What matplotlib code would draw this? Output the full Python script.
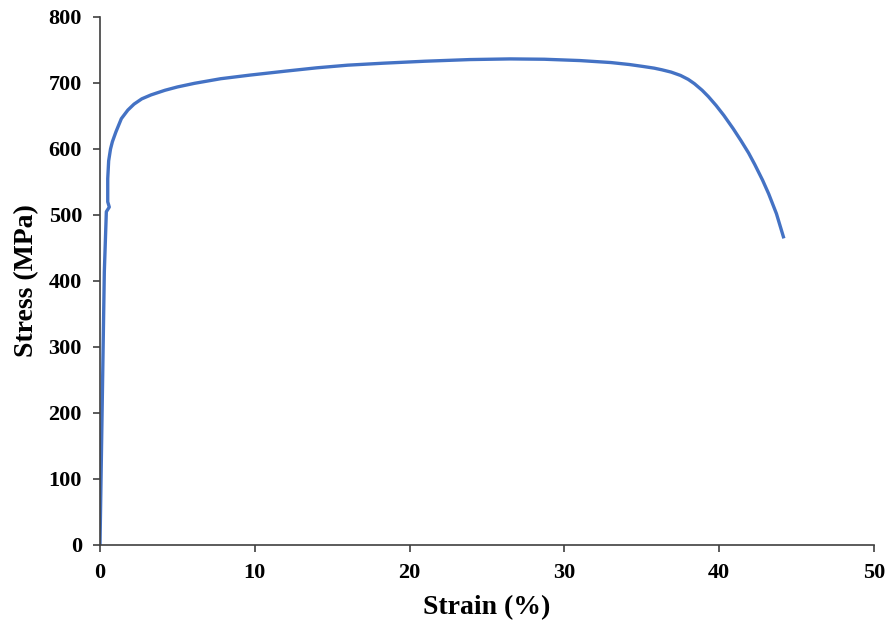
import matplotlib.pyplot as plt

# Stress-strain curve
strain = [0, 0.28, 0.41, 0.6, 0.5, 0.5, 0.56, 0.68, 0.8, 1.03, 1.38, 1.8, 2.2,
          2.7, 3.3, 4.2, 5.0, 6.1, 7.8, 9.7, 12.0, 14.0, 16.0, 18.3, 21.0,
          23.9, 26.5, 28.7, 31.0, 33.0, 34.2, 35.1, 35.8, 36.3, 36.9, 37.5,
          38.0, 38.4, 38.9, 39.3, 39.8, 40.3, 40.9, 41.4, 41.9, 42.3, 42.8,
          43.2, 43.7, 44.15]
stress = [0, 414, 505, 512, 520, 555, 582, 600, 611, 626, 646, 659, 668,
          676, 682, 689, 694, 699.5, 706.5, 712, 718, 723, 727, 730, 733,
          735.5, 736.5, 736, 734, 731, 728, 725, 722.5, 720, 716.5, 711.5,
          705.5, 699, 689, 679.5, 666, 651, 631, 613, 594, 576.5, 553,
          532, 502, 467]

plt.rcParams['font.family'] = ['Liberation Serif', 'DejaVu Serif']

fig = plt.figure(figsize=(8.96, 6.25), dpi=100)
ax = fig.add_axes([0.1116, 0.128, 0.8638, 0.8448])

ax.plot(strain, stress, color='#4472C4', lw=2.4, solid_joinstyle='round')

ax.set_xlim(0, 50)
ax.set_ylim(0, 800)
ax.set_xticks(range(0, 51, 10))
ax.set_yticks(range(0, 801, 100))

for s in ['top', 'right']:
    ax.spines[s].set_visible(False)
for s in ['left', 'bottom']:
    ax.spines[s].set_color('#404040')
    ax.spines[s].set_linewidth(1.2)

ax.tick_params(direction='out', length=5, width=1.2, color='#404040',
               labelsize=16, pad=8)
for lab in ax.get_xticklabels() + ax.get_yticklabels():
    lab.set_fontweight('bold')

ax.set_xlabel('Strain (%)', fontsize=20, fontweight='bold', labelpad=9)
ax.set_ylabel('Stress (MPa)', fontsize=20, fontweight='bold', labelpad=7)

plt.savefig('out.png', dpi=100)
